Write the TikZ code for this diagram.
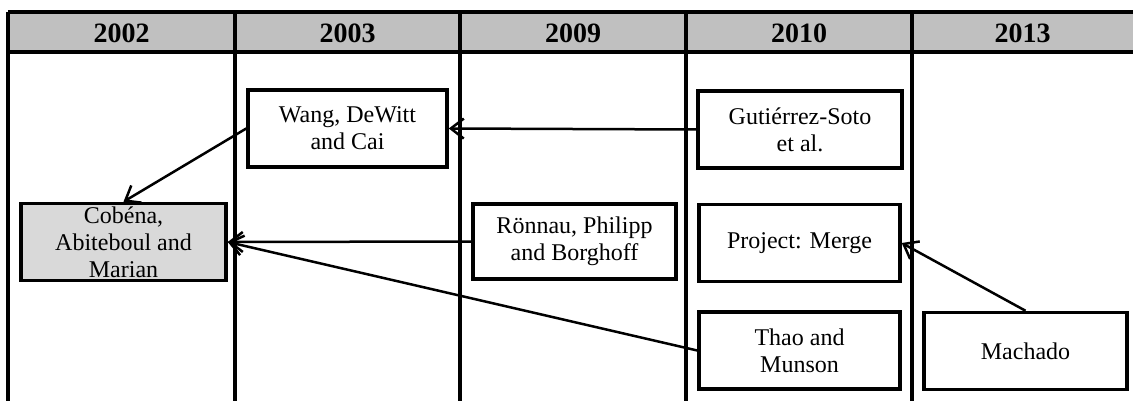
\documentclass[tikz,border=0pt]{standalone}
\usepackage{fontspec}
\setmainfont{Liberation Serif}
\usetikzlibrary{arrows.meta}
\definecolor{headgray}{HTML}{C0C0C0}
\definecolor{rootgray}{HTML}{D9D9D9}
\tikzstyle{yearlabel} = [
  font=\fontsize{28}{32}\selectfont\bfseries, inner sep=0pt
]
\tikzstyle{paperbox} = [
  rectangle, draw=black, line width=3.5pt, fill=white,
  minimum width=199pt, minimum height=77pt, inner sep=2pt,
  align=center, font=\fontsize{24}{27}\selectfont
]
\tikzstyle{rootbox} = [paperbox, fill=rootgray]
\tikzstyle{gridline} = [line width=3.5pt]
\tikzstyle{arrowstyle} = [-{Straight Barb[length=13pt,width=20pt]}, line width=2.5pt]

\begin{document}
\begin{tikzpicture}[x=1pt, y=-1pt]
\useasboundingbox (0,0) rectangle (1133,401);

% --- Header row ---
\fill[headgray] (8,12) rectangle (1133,52);
\draw[gridline] (8,12) -- (1133,12);
\draw[gridline] (8,52) -- (1133,52);
\foreach \x in {8,235,460,686,912}
  \draw[gridline] (\x,12) -- (\x,401);

\node[yearlabel] (y2002) at (121.5,33) {2002};
\node[yearlabel] (y2003) at (347.5,33) {2003};
\node[yearlabel] (y2009) at (573,33) {2009};
\node[yearlabel] (y2010) at (799,33) {2010};
\node[yearlabel] (y2013) at (1022.5,33) {2013};

% --- Papers ---
\node[paperbox] (wang) at (347.5,128.5) {Wang, DeWitt\\and Cai};
\node[paperbox, minimum width=204pt] (gutierrez) at (800,129.5) {Guti\'errez-Soto\\et al.};
\node[rootbox, minimum width=205pt] (cobena) at (123.5,242) {Cob\'ena,\\Abiteboul and\\Marian};
\node[paperbox, minimum width=203pt, minimum height=75pt] (ronnau) at (574.5,241.5) {R\"onnau, Philipp\\and Borghoff};
\node[paperbox, minimum width=201pt] (merge) at (799.5,243) {Project: Merge};
\node[paperbox, minimum width=201pt] (thao) at (799.5,350.5) {Thao and\\Munson};
\node[paperbox, minimum width=203pt] (machado) at (1025.5,351) {Machado};

% --- Arrows ---
\draw[arrowstyle] (gutierrez.west) -- (wang.east);
\draw[arrowstyle] (wang.west) -- (cobena.north);
\draw[arrowstyle] (ronnau.west) -- (cobena.east);
\draw[arrowstyle] (thao.west) -- (cobena.east);
\draw[arrowstyle] (machado.north) -- (merge.east);

\end{tikzpicture}
\end{document}
